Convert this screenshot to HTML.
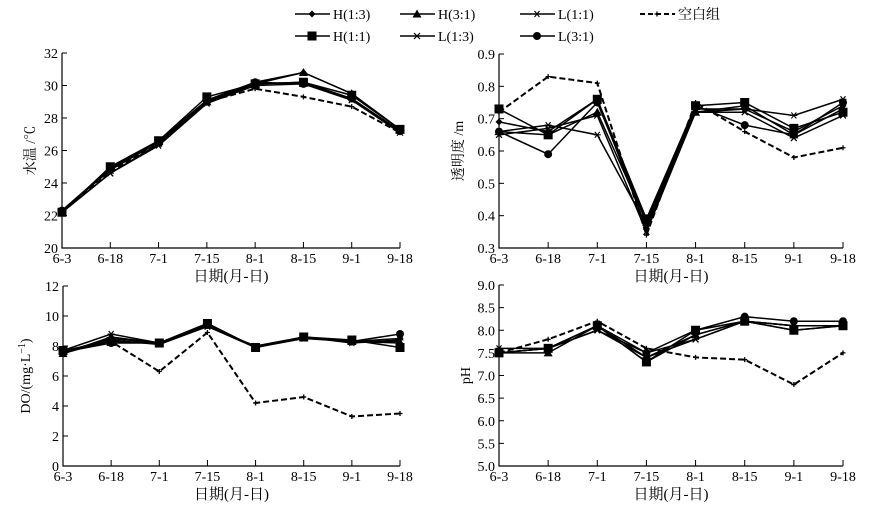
<!DOCTYPE html>
<html><head><meta charset="utf-8"><style>
body{margin:0;background:#fff}
svg{display:block;font-family:"Liberation Serif","Noto Serif CJK SC",serif}
</style></head><body>
<svg id="c" width="889" height="512"></svg>
<script>
const dates=["6-3","6-18","7-1","7-15","8-1","8-15","9-1","9-18"];
const seriesNames=["H(1:3)","H(3:1)","L(1:1)","空白组","H(1:1)","L(1:3)","L(3:1)"];
const tempH13=[22.3,24.9,26.6,29.1,30.2,30.8,29.5,27.3];
const tempH31=[22.3,24.9,26.6,29.0,30.1,30.8,29.5,27.3];
const tempL11=[22.2,24.6,26.3,28.9,30.1,30.2,29.2,27.2];
const tempBlank=[22.2,24.7,26.4,29.0,29.8,29.3,28.7,27.1];
const tempH11=[22.2,25.0,26.6,29.3,30.1,30.2,29.4,27.3];
const tempL13=[22.2,24.6,26.4,28.9,30.0,30.1,29.1,27.1];
const tempL31=[22.3,24.8,26.5,29.0,30.2,30.1,29.2,27.2];
const sdH13=[0.69,0.66,0.76,0.36,0.72,0.73,0.66,0.74];
const sdH31=[0.66,0.65,0.72,0.38,0.72,0.74,0.65,0.73];
const sdL11=[0.66,0.68,0.65,0.37,0.73,0.73,0.71,0.76];
const sdBlank=[0.72,0.83,0.81,0.34,0.75,0.66,0.58,0.61];
const sdH11=[0.73,0.65,0.76,0.39,0.74,0.75,0.67,0.72];
const sdL13=[0.65,0.67,0.71,0.35,0.72,0.72,0.64,0.71];
const sdL31=[0.66,0.59,0.75,0.38,0.74,0.68,0.65,0.75];
const doH13=[7.6,8.5,8.2,9.4,7.9,8.6,8.3,8.5];
const doH31=[7.5,8.6,8.2,9.5,7.9,8.6,8.3,8.2];
const doL11=[7.7,8.8,8.2,9.3,8.0,8.6,8.2,8.4];
const doBlank=[7.6,8.3,6.3,8.9,4.2,4.6,3.3,3.5];
const doH11=[7.7,8.3,8.2,9.5,7.9,8.6,8.4,7.9];
const doL13=[7.5,8.4,8.1,9.3,7.9,8.5,8.3,8.3];
const doL31=[7.6,8.2,8.2,9.4,7.9,8.6,8.3,8.8];
const phH13=[7.5,7.6,8.1,7.4,7.9,8.2,8.1,8.1];
const phH31=[7.5,7.5,8.1,7.3,7.9,8.2,8.0,8.1];
const phL11=[7.6,7.6,8.0,7.5,7.8,8.2,8.1,8.1];
const phBlank=[7.5,7.8,8.2,7.6,7.4,7.35,6.8,7.5];
const phH11=[7.5,7.6,8.1,7.3,8.0,8.2,8.0,8.1];
const phL13=[7.5,7.6,8.0,7.4,7.8,8.2,8.1,8.1];
const phL31=[7.5,7.6,8.1,7.5,8.0,8.3,8.2,8.2];
const tempTicks=[20,22,24,26,28,30,32];
const sdTicks=[0.3,0.4,0.5,0.6,0.7,0.8,0.9];
const doTicks=[0,2,4,6,8,10,12];
const phTicks=[5.0,5.5,6.0,6.5,7.0,7.5,8.0,8.5,9.0];

const NS="http://www.w3.org/2000/svg";
const svg=document.getElementById('c');
function mk(tag,attrs,parent){const e=document.createElementNS(NS,tag);for(const k in attrs)e.setAttribute(k,attrs[k]);(parent||svg).appendChild(e);return e;}
function marker(g,type,x,y){
  const s=3.5;
  if(type==="diamond")mk('path',{d:`M${x} ${y-s}L${x+s} ${y}L${x} ${y+s}L${x-s} ${y}Z`,fill:'#000'},g);
  else if(type==="tri")mk('path',{d:`M${x} ${y-4.5}L${x+4.5} ${y+3.5}L${x-4.5} ${y+3.5}Z`,fill:'#000'},g);
  else if(type==="square")mk('rect',{x:x-4.5,y:y-4.5,width:9,height:9,fill:'#000'},g);
  else if(type==="circle")mk('circle',{cx:x,cy:y,r:4,fill:'#000'},g);
  else if(type==="x")mk('path',{d:`M${x-3} ${y-3}L${x+3} ${y+3}M${x-3} ${y+3}L${x+3} ${y-3}`,stroke:'#000','stroke-width':1.2},g);
  else if(type==="star")mk('path',{d:`M${x-3.5} ${y}L${x+3.5} ${y}M${x-2.5} ${y-3}L${x+2.5} ${y+3}M${x-2.5} ${y+3}L${x+2.5} ${y-3}`,stroke:'#000','stroke-width':1.1},g);
  else if(type==="plus")mk('path',{d:`M${x-2.5} ${y}L${x+2.5} ${y}M${x} ${y-2.5}L${x} ${y+2.5}`,stroke:'#000','stroke-width':1.3},g);
}
function panel(name,cfg,data){
  const g=mk('g',{});
  
  
  const {x0,x1,yTop,yBot,ticks,ylab,fmt,yoff}=cfg;
  const vmin=ticks[0],vmax=ticks[ticks.length-1];
  const X=i=>x0+i*(x1-x0)/(dates.length-1);
  const Y=v=>yBot-(v-vmin)/(vmax-vmin)*(yBot-yTop);
  const ax=mk('path',{d:`M${x0} ${yTop}L${x0} ${yBot}L${x1} ${yBot}`,fill:'none',stroke:'#000','stroke-width':1.2},g);
  
  ticks.forEach(t=>{const y=Y(t);mk('line',{x1:x0,x2:x0+5,y1:y,y2:y,stroke:'#000'},g);
    const tx=mk('text',{x:x0-4,y:y+5,'text-anchor':'end','font-size':14},g);tx.textContent=fmt(t);
    });
  dates.forEach((d,i)=>{const x=X(i);mk('line',{x1:x,x2:x,y1:yBot,y2:yBot-6,stroke:'#000'},g);
    const tx=mk('text',{x:x,y:yBot+15,'text-anchor':'middle','font-size':14},g);tx.textContent=d;
    });
  const xl=mk('text',{x:(x0+x1)/2,y:yBot+33,'text-anchor':'middle','font-size':15},g);xl.textContent="日期(月-日)";
  
  const yl=mk('text',{x:0,y:0,'text-anchor':'middle','font-size':14,transform:`translate(${x0-yoff},${(yTop+yBot)/2}) rotate(-90)`},g);
  yl.innerHTML=ylab;
  
  data.forEach(s=>{
    const sg=mk('g',{},g);
    
    
    const pts=s.v.map((v,i)=>X(i)+','+Y(v)).join(' ');
    mk('polyline',{points:pts,fill:'none',stroke:'#000','stroke-width':s.dash?2:1.5,'stroke-dasharray':s.dash?'6,3':'none'},sg);
    s.v.forEach((v,i)=>marker(sg,s.m,X(i),Y(v)));
  });
}
function sets(a){const keys=["h13","h31","l11","blank","h11","l13","l31"];const ms=["diamond","tri","star","plus","square","x","circle"];
  return a.map((v,i)=>({key:keys[i],v:v,m:ms[i],dash:keys[i]==="blank"}));}
panel('temperature-panel',{x0:62,x1:400,yTop:53,yBot:248,ticks:tempTicks,ylab:'水温 /℃',fmt:t=>t,yoff:27},
  sets([tempH13,tempH31,tempL11,tempBlank,tempH11,tempL13,tempL31]));
panel('transparency-panel',{x0:499,x1:843,yTop:54,yBot:248,ticks:sdTicks,ylab:'透明度 /m',fmt:t=>t.toFixed(1),yoff:36},
  sets([sdH13,sdH31,sdL11,sdBlank,sdH11,sdL13,sdL31]));
panel('do-panel',{x0:63,x1:400,yTop:286,yBot:466,ticks:doTicks,ylab:'DO/(mg·L<tspan baseline-shift="super" font-size="10">−1</tspan>)',fmt:t=>t,yoff:33},
  sets([doH13,doH31,doL11,doBlank,doH11,doL13,doL31]));
panel('ph-panel',{x0:499,x1:843,yTop:285,yBot:466,ticks:phTicks,ylab:'pH',fmt:t=>t.toFixed(1),yoff:29},
  sets([phH13,phH31,phL11,phBlank,phH11,phL13,phL31]));
const lg=mk('g',{});


const legPos=[[295,14],[400,14],[520,14],[640,14],[295,36],[400,36],[520,36]];
const ms=["diamond","tri","star","plus","square","x","circle"];
seriesNames.forEach((n,i)=>{
  const [x,y]=legPos[i];
  const e=mk('g',{},lg);
  
  
  const dash=i===3;
  mk('line',{x1:x,x2:x+35,y1:y,y2:y,stroke:'#000','stroke-width':dash?2:1.5,'stroke-dasharray':dash?'5,3':'none'},e);
  marker(e,ms[i],x+17,y);
  const t=mk('text',{x:x+38,y:y+5,'font-size':14},e);t.textContent=n;
});
</script>
</body></html>
